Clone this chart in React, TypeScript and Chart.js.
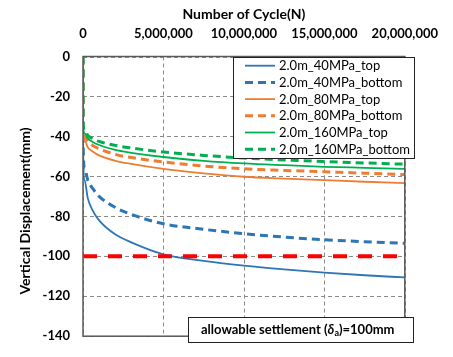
import React, { useEffect, useRef } from "react";
import { Chart, registerables } from "chart.js";

Chart.register(...registerables);

const cycles = [0, 1e3, 1e5, 3e5, 6e5, 1e6, 2e6, 3e6, 5e6, 7.5e6, 1e7, 1.25e7, 1.5e7, 1.75e7, 2e7];
const mpa40Top = [0, -42, -62, -71, -77, -82, -89, -93, -99, -102.3, -104.7, -106.6, -108.2, -109.5, -110.6];
const mpa40Bottom = [0, -41, -56, -62, -66, -70, -75.5, -79, -83.7, -86.5, -88.7, -90.4, -91.7, -92.7, -93.5];
const mpa80Top = [0, -36, -42, -45.5, -47.5, -49.5, -52.2, -53.8, -56.3, -58.5, -60.2, -61.1, -61.9, -62.7, -63.4];
const mpa80Bottom = [0, -35, -40, -42.5, -44.5, -46.2, -49, -50.6, -52.8, -54.8, -56.2, -57, -57.7, -58.4, -59.1];
const mpa160Top = [0, -34, -38.5, -41, -42.8, -44.3, -46.8, -48.2, -50.3, -52.2, -53.5, -54.4, -55.2, -55.7, -56.2];
const mpa160Bottom = [0, -33, -37, -39.5, -41, -42.5, -44.5, -45.8, -47.8, -49.5, -50.8, -51.8, -52.6, -53.3, -53.9];
const limitX = [0, 2e7];
const limitY = [-100, -100];
const seriesNames = [
  "2.0m_40MPa_top",
  "2.0m_40MPa_bottom",
  "2.0m_80MPa_top",
  "2.0m_80MPa_bottom",
  "2.0m_160MPa_top",
  "2.0m_160MPa_bottom",
];
const xTitle = "Number of Cycle(N)";
const yTitle = "Vertical Displacement(mm)";

const BLUE = "#2E75B6";
const ORANGE = "#ED7D31";
const GREEN = "#00B050";
const FONT = "Lato, 'Liberation Sans', sans-serif";

const toPts = (xs: number[], ys: number[]) => xs.map((x, i) => ({ x, y: ys[i] }));

const gridPlugin = {
  id: "dashedGrid",
  beforeDatasetsDraw(chart: any) {
    const { ctx, chartArea, scales } = chart;
    ctx.save();
    ctx.strokeStyle = "#8a8a8a";
    ctx.lineWidth = 1;
    ctx.setLineDash([4, 3]);
    scales.y.ticks.forEach((t: any) => {
      const y = Math.round(scales.y.getPixelForValue(t.value)) + 0.5;
      ctx.beginPath();
      ctx.moveTo(chartArea.left, y);
      ctx.lineTo(chartArea.right, y);
      ctx.stroke();
    });
    scales.x.ticks.forEach((t: any) => {
      const x = Math.round(scales.x.getPixelForValue(t.value)) + 0.5;
      ctx.beginPath();
      ctx.moveTo(x, chartArea.top);
      ctx.lineTo(x, chartArea.bottom);
      ctx.stroke();
    });
    ctx.restore();
  },
};

const boxesPlugin = {
  id: "customBoxes",
  afterDatasetsDraw(chart: any) {
    const { ctx, chartArea } = chart;
    ctx.save();
    // plot border
    ctx.strokeStyle = "#595959";
    ctx.lineWidth = 1.5;
    ctx.setLineDash([]);
    ctx.strokeRect(chartArea.left, chartArea.top, chartArea.right - chartArea.left, chartArea.bottom - chartArea.top);

    // y-axis title
    ctx.save();
    ctx.translate(25, 211);
    ctx.rotate(-Math.PI / 2);
    ctx.fillStyle = "#000";
    ctx.font = `bold 14px ${FONT}`;
    ctx.textAlign = "center";
    ctx.textBaseline = "middle";
    ctx.fillText(yTitle, 0, 0);
    ctx.restore();

    // legend box
    const lx = 233, ly = 57, lw = 181, lh = 101;
    ctx.fillStyle = "#ffffff";
    ctx.fillRect(lx, ly, lw, lh);
    ctx.strokeStyle = "#222";
    ctx.lineWidth = 1;
    ctx.strokeRect(lx + 0.5, ly + 0.5, lw, lh);
    const dsList = chart.data.datasets.filter((d: any) => d.inLegend);
    dsList.forEach((d: any, i: number) => {
      const y = 65.7 + i * 16.7;
      ctx.beginPath();
      ctx.strokeStyle = d.borderColor;
      ctx.lineWidth = d.borderWidth;
      ctx.setLineDash(d.borderDash || []);
      ctx.moveTo(245, y);
      ctx.lineTo(275, y);
      ctx.stroke();
      ctx.setLineDash([]);
      ctx.fillStyle = "#000";
      ctx.font = `13px ${FONT}`;
      ctx.textBaseline = "middle";
      ctx.textAlign = "left";
      ctx.fillText(d.label, 279, y + 0.5);
    });

    // allowable settlement box
    const bx = 188, by = 317, bw = 225, bh = 25;
    ctx.fillStyle = "#ffffff";
    ctx.fillRect(bx, by, bw, bh);
    ctx.strokeStyle = "#222";
    ctx.lineWidth = 1;
    ctx.strokeRect(bx + 0.5, by + 0.5, bw, bh);
    const ty = by + bh / 2 + 0.5;
    let tx = 201;
    ctx.fillStyle = "#000";
    ctx.textBaseline = "middle";
    const parts: [string, string, number][] = [
      ["allowable settlement (", `bold 13px ${FONT}`, 0],
      ["δ", `italic bold 13px ${FONT}`, 0],
      ["a", `bold 9px ${FONT}`, 3],
      [")=100mm", `bold 13px ${FONT}`, 0],
    ];
    parts.forEach(([t, f, dy]) => {
      ctx.font = f;
      ctx.fillText(t, tx, ty + dy);
      tx += ctx.measureText(t).width;
    });
    ctx.restore();
  },
};

export default function App() {
  const ref = useRef<HTMLCanvasElement | null>(null);
  useEffect(() => {
    if (!ref.current) return;
    const names = seriesNames;
    const chart = new Chart(ref.current, {
      type: "line",
      data: {
        datasets: [
          { label: "limit", data: toPts(limitX, limitY), borderColor: "#FF0000", borderWidth: 4, borderDash: [14, 11], order: 0, inLegend: false } as any,
          { label: names[0], data: toPts(cycles, mpa40Top), borderColor: BLUE, borderWidth: 1.8, order: 6, inLegend: true } as any,
          { label: names[1], data: toPts(cycles, mpa40Bottom), borderColor: BLUE, borderWidth: 3, borderDash: [8, 5], order: 5, inLegend: true } as any,
          { label: names[2], data: toPts(cycles, mpa80Top), borderColor: ORANGE, borderWidth: 1.8, order: 4, inLegend: true } as any,
          { label: names[3], data: toPts(cycles, mpa80Bottom), borderColor: ORANGE, borderWidth: 3, borderDash: [8, 5], order: 3, inLegend: true } as any,
          { label: names[4], data: toPts(cycles, mpa160Top), borderColor: GREEN, borderWidth: 1.8, order: 2, inLegend: true } as any,
          { label: names[5], data: toPts(cycles, mpa160Bottom), borderColor: GREEN, borderWidth: 3, borderDash: [8, 5], order: 1, inLegend: true } as any,
        ],
      },
      options: {
        animation: false,
        responsive: false,
        maintainAspectRatio: false,
        layout: { padding: { left: 0, right: 39, top: 0, bottom: 8 } },
        elements: {
          point: { radius: 0 },
          line: { cubicInterpolationMode: "monotone", fill: false },
        },
        plugins: { legend: { display: false }, tooltip: { enabled: false } },
        scales: {
          x: {
            type: "linear",
            position: "top",
            min: 0,
            max: 2e7,
            afterFit: (s: any) => { s.height = 56.5; },
            ticks: {
              stepSize: 5e6,
              padding: 15,
              color: "#000",
              font: { family: FONT, size: 13, weight: "bold" },
              callback: (v: any) => Number(v).toLocaleString("en-US"),
              maxRotation: 0,
            },
            grid: { display: false, drawTicks: false },
            border: { display: false },
            title: {
              display: true,
              text: xTitle,
              color: "#000",
              font: { family: FONT, size: 14, weight: "bold" },
              padding: { top: 6, bottom: 0 },
            },
          },
          y: {
            type: "linear",
            min: -140,
            max: 0,
            afterFit: (s: any) => { s.width = 83; },
            ticks: {
              stepSize: 20,
              padding: 13,
              color: "#000",
              font: { family: FONT, size: 13, weight: "bold" },
            },
            grid: { display: false, drawTicks: false },
            border: { display: false },
            title: { display: false },
          },
        },
      },
      plugins: [gridPlugin, boxesPlugin],
    } as any);
    return () => chart.destroy();
  }, []);
  return (
    <div style={{ position: "absolute", left: 0, top: 0, width: 453, height: 357, background: "#fff" }}>
      <canvas ref={ref} width={453} height={357} style={{ width: 453, height: 357 }} />
    </div>
  );
}
